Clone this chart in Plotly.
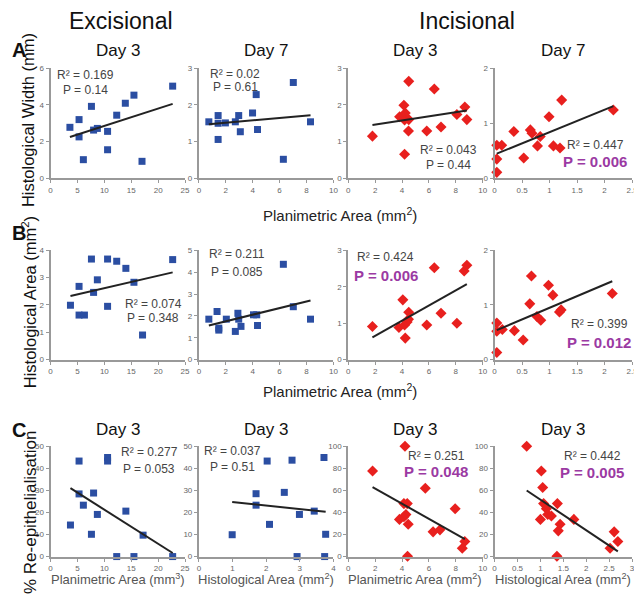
import numpy as np
import plotly.graph_objects as go

# page has an 8px body margin, so the figure is a bit smaller and shifted
W, H = 642, 598
OFF = 8
FW, FH = W - OFF, H - OFF

# ---- row A: histological width vs planimetric area ----
a1_x = [3.6, 5.3, 5.3, 6.1, 7.6, 8.0, 8.7, 10.6, 10.6, 12.3, 13.9, 15.5, 17.0, 22.7]
a1_y = [2.78, 3.2, 2.26, 1.02, 3.92, 2.63, 2.72, 2.56, 1.56, 3.44, 4.09, 4.53, 0.93, 5.02]
a2_x = [0.74, 1.43, 1.43, 1.43, 1.97, 2.71, 2.96, 3.08, 3.99, 4.26, 4.36, 6.28, 7.02, 8.3]
a2_y = [1.54, 1.71, 1.5, 1.06, 1.51, 1.54, 1.71, 1.27, 1.78, 2.28, 1.33, 0.52, 2.61, 1.54]
a3_x = [1.8, 4.19, 4.14, 4.5, 3.82, 4.24, 4.19, 4.5, 4.48, 5.84, 6.4, 6.9, 8.08, 8.67, 8.82]
a3_y = [1.15, 0.66, 1.99, 2.64, 1.68, 1.78, 1.59, 1.6, 1.29, 1.29, 2.43, 1.4, 1.74, 1.94, 1.6]
a4_x = [0.04, 0.13, 0.04, 0.04, 0.35, 0.53, 0.65, 0.68, 0.83, 0.78, 0.99, 1.07, 1.19, 1.22, 2.16]
a4_y = [0.6, 0.6, 0.35, 0.11, 0.85, 0.37, 0.88, 0.82, 0.76, 0.59, 1.12, 0.59, 0.55, 1.42, 1.24]

# ---- row B: histological area vs planimetric area ----
b1_x = [3.7, 5.3, 5.3, 6.3, 7.6, 8.0, 8.7, 10.6, 10.6, 12.3, 14.0, 15.5, 17.1, 22.7]
b1_y = [1.99, 2.68, 1.63, 1.63, 3.68, 2.46, 2.92, 3.68, 1.95, 3.6, 3.34, 2.83, 0.9, 3.66]
b2_x = [0.74, 1.35, 1.48, 1.48, 2.04, 2.71, 2.9, 2.96, 3.13, 4.06, 4.3, 4.36, 6.28, 7.02, 8.3]
b2_y = [1.85, 2.2, 1.44, 1.35, 1.85, 1.29, 2.12, 1.85, 1.52, 2.05, 2.05, 1.56, 4.36, 2.42, 1.85]
b3_x = [1.8, 3.77, 4.06, 4.24, 4.19, 4.38, 4.48, 4.5, 5.84, 6.4, 6.9, 8.08, 8.62, 8.82]
b3_y = [0.91, 0.88, 1.64, 0.59, 0.95, 1.03, 1.11, 1.3, 0.95, 2.52, 1.27, 1.0, 2.43, 2.59]
b4_x = [0.04, 0.04, 0.14, 0.04, 0.36, 0.52, 0.67, 0.64, 0.77, 0.84, 0.98, 1.06, 1.18, 1.21, 2.14]
b4_y = [0.67, 0.52, 0.55, 0.13, 0.53, 0.36, 1.53, 1.02, 0.79, 0.72, 1.36, 1.18, 0.87, 0.91, 1.21]

# ---- row C: % re-epithelialisation ----
c1_x = [3.7, 5.3, 5.3, 6.1, 7.6, 8.0, 8.7, 10.6, 10.6, 12.3, 14.0, 15.5, 17.2, 22.7]
c1_y = [14.3, 43.3, 28.4, 23.3, 10.1, 28.8, 19.1, 44.9, 43.3, 0, 20.6, 0, 9.7, 0]
c2_x = [0.99, 1.7, 1.7, 2.03, 2.1, 2.54, 2.77, 2.92, 2.99, 3.43, 3.72, 3.74, 3.77]
c2_y = [9.9, 28.5, 23.3, 43.3, 14.6, 29.1, 43.7, 0, 19.1, 20.6, 44.9, 0, 10.1]
c3_x = [1.81, 4.22, 4.14, 4.39, 3.81, 4.14, 4.29, 4.46, 4.41, 5.73, 6.31, 6.82, 7.95, 8.67, 8.48]
c3_y = [77.6, 100, 48, 48, 33.7, 36.1, 38.2, 29.3, 0.3, 62, 22.4, 24.2, 43.3, 13.7, 7.5]
c4_x = [0.7, 1.02, 1.05, 1.07, 1.0, 1.13, 1.16, 1.24, 1.37, 1.43, 1.39, 1.36, 1.73, 2.52, 2.61, 2.69]
c4_y = [100, 77.6, 62.7, 48, 33.7, 43.3, 38.2, 36.7, 48, 29.3, 23.3, 0.3, 33.7, 7.5, 22.4, 13.7]

r2_text = ["0.169", "0.02", "0.043", "0.447",
           "0.074", "0.211", "0.424", "0.399",
           "0.277", "0.037", "0.251", "0.442"]
p_text = ["0.14", "0.61", "0.44", "0.006",
          "0.348", "0.085", "0.006", "0.012",
          "0.053", "0.51", "0.048", "0.005"]
p_signif = [False, False, False, True,
            False, False, True, True,
            False, False, True, True]

xs = [a1_x, a2_x, a3_x, a4_x, b1_x, b2_x, b3_x, b4_x, c1_x, c2_x, c3_x, c4_x]
ys = [a1_y, a2_y, a3_y, a4_y, b1_y, b2_y, b3_y, b4_y, c1_y, c2_y, c3_y, c4_y]

x_ranges = [(25, 5), (10, 2), (10, 2), (2.5, 0.5),
            (25, 5), (10, 2), (10, 2), (2.5, 0.5),
            (25, 5), (4, 1), (10, 2), (3, 0.5)]
y_ranges = [(6, 2), (3, 1), (3, 1), (2, 1),
            (4, 1), (5, 1), (3, 1), (2, 1),
            (50, 10), (50, 10), (100, 20), (100, 20)]

# layout in page pixels
cols_px = [(49, 185), (199, 335), (350, 486), (498, 637)]
rows_px = [(65, 177), (250, 361), (449, 561)]
# stat label positions (center x, y of R2, y of P)
stat_pos = [(84, 72, 87), (236, 71, 84), (451, 148, 163), (600, 143, 160),
            (153, 305, 319), (238, 254, 272), (388, 257, 276), (604, 325, 344),
            (149, 455, 472), (233, 454, 470), (439, 459, 475), (597, 459, 476)]

BLUE = "#2b4ea2"
RED = "#e8201e"
PURPLE = "#9b3aa3"
GREY = "#444444"
FONT = "Arial, Liberation Sans, sans-serif"


def px_x(v):
    return (v - OFF) / FW


def px_y(v):
    return 1 - (v - OFF) / FH


fig = go.Figure()
annotations = []
layout = {}

for i in range(12):
    r, c = divmod(i, 4)
    n = "" if i == 0 else str(i + 1)
    blue = c < 2
    x = np.array(xs[i])
    y = np.array(ys[i])
    fig.add_trace(go.Scatter(
        x=x, y=y, mode="markers", xaxis="x" + n, yaxis="y" + n,
        cliponaxis=False, showlegend=False,
        marker=dict(symbol="square" if blue else "diamond",
                    size=7 if blue else 8.5, color=BLUE if blue else RED,
                    line=dict(width=0)),
    ))
    # least squares fit line over the data span
    k, b = np.polyfit(x, y, 1)
    lx = np.array([x.min(), x.max()])
    fig.add_trace(go.Scatter(
        x=lx, y=k * lx + b, mode="lines", xaxis="x" + n, yaxis="y" + n,
        showlegend=False, line=dict(color="#222222", width=2),
    ))

    x0, x1 = cols_px[c]
    y0, y1 = rows_px[r]
    axis_common = dict(
        showline=True, linecolor="#999999", linewidth=2, showgrid=False,
        zeroline=False, ticks="outside", ticklen=3, tickcolor="#999999",
        tickfont=dict(size=8, color="#666666", family=FONT),
    )
    layout["xaxis" + n] = dict(
        domain=[px_x(x0), px_x(x1)], anchor="y" + n,
        range=[0, x_ranges[i][0]], dtick=x_ranges[i][1], tick0=0,
        **axis_common)
    layout["yaxis" + n] = dict(
        domain=[px_y(y1), px_y(y0)], anchor="x" + n,
        range=[0, y_ranges[i][0]], dtick=y_ranges[i][1], tick0=0,
        **axis_common)

    sx, sy_r, sy_p = stat_pos[i]
    annotations.append(dict(
        x=px_x(sx), y=px_y(sy_r), xref="paper", yref="paper",
        xanchor="center", yanchor="middle",
        text="R² = " + r2_text[i], showarrow=False,
        font=dict(size=12, color=GREY, family=FONT)))
    if p_signif[i]:
        p_label = "<b>P = " + p_text[i] + "</b>"
        p_font = dict(size=15, color=PURPLE, family=FONT)
    else:
        p_label = "P = " + p_text[i]
        p_font = dict(size=12, color=GREY, family=FONT)
    annotations.append(dict(
        x=px_x(sx), y=px_y(sy_p), xref="paper", yref="paper",
        xanchor="center", yanchor="middle",
        text=p_label, showarrow=False, font=p_font))


def add_text(x, y, text, size, color="#111111", angle=0):
    annotations.append(dict(
        x=px_x(x), y=px_y(y), xref="paper", yref="paper", text=text,
        xanchor="center", yanchor="middle",
        showarrow=False, textangle=angle,
        font=dict(size=size, color=color, family=FONT)))


# group headings
add_text(120, 17, "Excisional", 23)
add_text(470, 17, "Incisional", 23)

# column titles
day_titles = ["Day 3", "Day 7", "Day 3", "Day 7"]
for c in range(4):
    cx = (cols_px[c][0] + cols_px[c][1]) / 2
    add_text(cx, 47, day_titles[c], 17)
    add_text(cx, 432, "Day 3", 17)

# panel letters
add_text(17, 47, "<b>A</b>", 20)
add_text(17, 232, "<b>B</b>", 20)
add_text(17, 432, "<b>C</b>", 20)

# axis titles
add_text(27, 118, "Histological Width (mm)", 16.5, angle=-90)
add_text(27, 303, "Histological Area (mm<sup>2</sup>)", 16.5, angle=-90)
add_text(28, 516, "% Re-epithelialisation", 17, angle=-90)
add_text(342, 214, "Planimetric Area (mm<sup>2</sup>)", 15, color="#222222")
add_text(342, 392, "Planimetric Area (mm<sup>2</sup>)", 15, color="#222222")
c_xtitles = ["Planimetric Area (mm<sup>3</sup>)", "Histological Area (mm<sup>2</sup>)",
             "Planimetric Area (mm<sup>2</sup>)", "Histological Area (mm<sup>2</sup>)"]
for c in range(4):
    cx = (cols_px[c][0] + cols_px[c][1]) / 2
    add_text(cx, 584, c_xtitles[c], 13, color="#555555")

fig.update_layout(
    width=FW, height=FH, margin=dict(l=0, r=0, t=0, b=0),
    paper_bgcolor="white", plot_bgcolor="white",
    font=dict(family=FONT), annotations=annotations, **layout,
)

fig.write_html("out.html")
